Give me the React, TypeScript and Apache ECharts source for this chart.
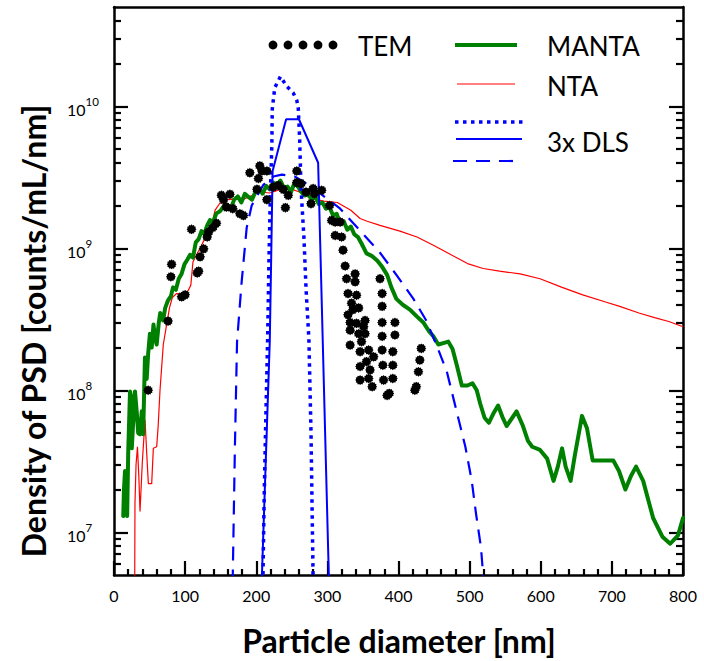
import React, { useEffect, useRef } from "react";
import * as echarts from "echarts";

// ---------- data (diameter in nm, density in counts/mL/nm) ----------
const temDiameter = [
  48, 76, 80, 81, 95, 100, 109, 117, 119, 121, 126, 131, 133, 139, 144, 151, 154, 158, 163, 167,
  177, 182, 191, 201, 203, 205, 208, 215, 215, 224, 231, 238, 241, 245, 257, 257,
  263, 270, 277, 280, 282, 292, 303, 306, 311, 318, 311, 320, 322, 325, 327, 339, 339, 329, 341,
  334, 336, 344, 329, 332, 341, 353, 351, 332, 344, 353, 348, 332, 346, 358, 365, 355, 346, 360,
  346, 358, 363, 374, 377, 377, 377, 377, 377, 378, 379, 384, 395, 395, 392, 392, 392, 387,
  432, 430, 428, 425, 423,
];
const temDensity = [
  1.0e8, 3.07e8, 6.3e8, 7.7e8, 4.55e8, 4.7e8, 1.36e9, 6.7e8, 6.9e8, 8.7e8, 9.9e8, 1.2e9, 1.3e9, 1.4e9, 1.5e9, 2.36e9, 2.2e9, 1.95e9, 2.4e9, 1.9e9,
  1.75e9, 1.7e9, 3.4e9, 2.6e9, 3.1e9, 3.8e9, 3.5e9, 3.5e9, 2.2e9, 2.7e9, 2.77e9, 2.6e9, 1.93e9, 2.36e9, 3.5e9, 2.9e9,
  2.85e9, 2.49e9, 2.06e9, 2.63e9, 2.42e9, 2.56e9, 2.0e9, 1.57e9, 1.53e9, 1.53e9, 1.23e9, 1.2e9, 9.7e8, 7.5e8, 6.1e8, 6.6e8, 5.8e8, 4.8e8, 4.67e8,
  4.1e8, 3.7e8, 3.8e8, 3.4e8, 3.0e8, 2.96e8, 3.1e8, 2.8e8, 2.65e8, 2.5e8, 2.5e8, 2.2e8, 2.08e8, 1.87e8, 1.92e8, 1.72e8, 1.59e8, 1.47e8, 1.39e8,
  1.18e8, 1.21e8, 1.06e8, 6.1e8, 4.8e8, 3.9e8, 3.0e8, 2.4e8, 1.92e8, 1.5e8, 1.18e8, 9.2e7, 3.0e8, 2.45e8, 1.87e8, 1.5e8, 1.21e8, 9.5e7,
  1.97e8, 1.63e8, 1.35e8, 1.06e8, 1.0e8,
];

const mantaDiameter = [
  13, 14, 15.5, 17, 18.5, 20, 22.5, 24, 25, 27, 29.5, 32, 34, 36.5, 39, 41, 43.5, 46, 48, 50.5,
  53, 55.5, 58, 60, 63, 65, 69, 72, 76, 80, 83, 87, 91, 95, 99, 103, 107, 111, 115, 119,
  123, 127, 131, 135, 139, 144, 149, 154, 159, 164, 169, 174, 179, 184, 189, 194, 199, 204, 209, 214,
  219, 224, 229, 234, 239, 244, 249, 254, 259, 263, 268, 273, 278, 283, 288, 293, 298, 303, 308, 313,
  318, 323, 328, 333, 338, 343, 348, 355, 363, 370, 377, 384, 390, 397, 406, 416, 426, 435, 443, 449,
  456, 463, 470, 476, 482, 489, 497, 504, 510, 515, 521, 527, 533, 540, 546, 552, 559, 566, 575, 582,
  588, 599, 609, 618, 624, 630, 635, 642, 648, 658, 665, 673, 680, 688, 702, 710, 719, 727, 734, 744,
  751, 758, 771, 782, 793, 800,
];
const mantaDensity = [
  1.3e7, 2.0e7, 2.7e7, 1.8e7, 1.3e7, 3.7e7, 9.8e7, 9.0e7, 3.9e7, 6.0e7, 9.8e7, 7.0e7, 5.0e7, 4.9e7, 7.1e7, 4.9e7, 1.7e8, 1.2e8, 1.8e8, 2.5e8,
  2.0e8, 2.9e8, 2.3e8, 2.1e8, 3.0e8, 3.5e8, 3.1e8, 3.8e8, 4.3e8, 4.6e8, 5.3e8, 5.1e8, 6.1e8, 6.6e8, 7.7e8, 8.3e8, 9.0e8, 8.6e8, 1.1e9, 1.16e9,
  1.32e9, 1.26e9, 1.45e9, 1.58e9, 1.52e9, 1.76e9, 1.82e9, 1.97e9, 2.02e9, 1.9e9, 2.2e9, 2.32e9, 2.1e9, 2.42e9, 2.3e9, 2.2e9, 2.5e9, 2.62e9, 2.42e9, 2.75e9,
  2.6e9, 2.9e9, 2.78e9, 3.0e9, 2.65e9, 2.72e9, 2.5e9, 2.9e9, 2.7e9, 2.5e9, 2.35e9, 2.4e9, 2.2e9, 2.3e9, 2.05e9, 2.1e9, 1.9e9, 1.95e9, 1.7e9, 1.75e9,
  1.5e9, 1.55e9, 1.35e9, 1.42e9, 1.25e9, 1.2e9, 1.08e9, 9.2e8, 8.8e8, 8.2e8, 7.4e8, 6.5e8, 5.3e8, 4.4e8, 4.0e8, 3.7e8, 3.3e8, 3.0e8, 2.6e8, 2.4e8,
  2.1e8, 2.15e8, 2.2e8, 1.95e8, 1.5e8, 1.08e8, 1.08e8, 1.12e8, 1.0e8, 8.0e7, 6.4e7, 5.9e7, 6.8e7, 7.8e7, 6.5e7, 5.6e7, 6.3e7, 7.1e7, 5.6e7, 4.4e7,
  4.0e7, 3.8e7, 3.3e7, 2.3e7, 2.9e7, 3.9e7, 2.9e7, 2.3e7, 3.5e7, 6.6e7, 5.4e7, 3.2e7, 3.2e7, 3.2e7, 3.2e7, 2.7e7, 2.0e7, 2.5e7, 2.9e7, 2.3e7,
  1.7e7, 1.26e7, 9.3e6, 8.3e6, 9.5e6, 1.26e7,
];

const ntaDiameter = [
  29, 29.5, 31, 33, 35, 36.6, 39.8, 43.6, 46, 48.3, 53, 55.3, 60, 62, 64.7, 69.3, 74, 78, 82, 88,
  96, 104, 108, 111, 116, 121, 127, 133, 138, 142, 148, 154, 160, 169, 181, 194, 203, 219, 234, 245,
  260, 276, 295, 314, 333, 346, 356, 374, 402, 426, 449, 472, 497, 519, 542, 571, 599, 630, 659, 690,
  711, 738, 760, 780, 800,
];
const ntaDensity = [
  3e6, 1.6e7, 3.0e7, 4.0e7, 2.4e7, 1.4e7, 3.1e7, 6.2e7, 3.6e7, 2.2e7, 2.2e7, 3.9e7, 4.0e7, 5.5e7, 1.0e8, 2.1e8, 2.9e8, 3.8e8, 4.5e8, 4.8e8,
  4.8e8, 5.0e8, 5.5e8, 8.0e8, 9.0e8, 1.0e9, 1.15e9, 1.3e9, 1.5e9, 1.85e9, 2.05e9, 2.15e9, 2.2e9, 2.22e9, 2.2e9, 2.35e9, 2.5e9, 2.45e9, 2.6e9, 2.65e9,
  2.5e9, 2.25e9, 2.15e9, 2.1e9, 1.85e9, 1.62e9, 1.55e9, 1.45e9, 1.32e9, 1.2e9, 1.05e9, 9.1e8, 7.8e8, 7.2e8, 6.9e8, 6.6e8, 6.1e8, 5.3e8, 4.7e8, 4.2e8,
  3.9e8, 3.5e8, 3.25e8, 3.05e8, 2.8e8,
];

const dlsDottedDiameter = [208, 209.5, 211, 213, 216, 218, 220, 222, 222.5, 226, 234, 243, 252, 257, 259, 261, 263, 267, 270, 274, 277, 279, 280.5];
const dlsDottedDensity = [3e6, 5e6, 1.6e7, 5e7, 2.3e8, 8.9e8, 2.6e9, 5.5e9, 9.5e9, 1.35e10, 1.62e10, 1.38e10, 1.24e10, 1.1e10, 9.8e9, 5.9e9, 2.6e9, 1.2e9, 5.2e8, 2.3e8, 5e7, 1e7, 3e6];

const dlsSolidDiameter = [207, 208, 219, 221, 223, 242, 260, 287, 302, 303];
const dlsSolidDensity = [3e6, 5e6, 2.2e8, 8.5e8, 3.5e9, 8.1e9, 8.1e9, 4.0e9, 5e6, 3e6];

const dlsDashedDiameter = [166, 167, 170, 173, 179.6, 186.6, 193.6, 210, 224, 236, 254, 268.5, 289, 318, 346, 374, 397, 421, 439, 454, 468, 480, 494, 503, 509, 516, 519, 521];
const dlsDashedDensity = [3e6, 5e6, 4e7, 2.2e8, 5.9e8, 1.4e9, 2.0e9, 2.8e9, 3.2e9, 3.3e9, 3.2e9, 2.9e9, 2.45e9, 1.9e9, 1.33e9, 9.3e8, 6.5e8, 4.4e8, 3.1e8, 2.05e8, 1.35e8, 7.7e7, 4.0e7, 2.3e7, 1.35e7, 7.8e6, 5e6, 3e6];

const xTickStep = 100;
const yRangeMin = 5e6;
const yRangeMax = 5e10;
const decadeExponents = [7, 8, 9, 10];
const minorMultipliers = [2, 3, 4, 5, 6, 7, 8, 9];

// ---------- helpers ----------
const toLogPairs = (xs: number[], ys: number[]) => xs.map((x, i) => [x, Math.log10(ys[i])]);

function starSymbol(points: number, inner: number): string {
  const parts: string[] = [];
  for (let i = 0; i < points * 2; i++) {
    const r = i % 2 === 0 ? 50 : 50 * inner;
    const a = (Math.PI * i) / points - Math.PI / 2;
    parts.push(`${i === 0 ? "M" : "L"}${(50 + r * Math.cos(a)).toFixed(2)} ${(50 + r * Math.sin(a)).toFixed(2)}`);
  }
  return "path://" + parts.join(" ") + " Z";
}

const FONT = "Lato, 'Open Sans', sans-serif";

export default function App() {
  const ref = useRef<HTMLDivElement>(null);

  useEffect(() => {
    if (!ref.current) return;
    const chart = echarts.init(ref.current, undefined, { renderer: "svg" });

    const yMin = Math.log10(yRangeMin);
    const yMax = Math.log10(yRangeMax);
    const minorTicks: number[] = [];
    for (let e = 6; e <= 10; e++) {
      for (const m of minorMultipliers) {
        const v = e + Math.log10(m);
        if (v > yMin + 1e-6 && v < yMax - 1e-6) minorTicks.push(v);
      }
    }

    const black = "#000";
    const majorTick = { show: true, inside: true, length: 14, lineStyle: { color: black, width: 2.2 } };
    const minorTick = { show: true, inside: true, length: 7, lineStyle: { color: black, width: 2.2 } };
    const axisLineOn = { show: true, onZero: false, lineStyle: { color: black, width: 2.5 } };
    const axisLineOff = { show: false, onZero: false };

    const yBase = {
      type: "value",
      min: yMin,
      max: yMax,
      splitLine: { show: false },
      axisLabel: { show: false },
    };

    const star = starSymbol(12, 0.8);

    const option: any = {
      animation: false,
      backgroundColor: "#fff",
      grid: { left: 114, right: 21, top: 7, bottom: 86, show: false },
      xAxis: [
        {
          type: "value",
          min: 0,
          max: 800,
          interval: xTickStep,
          position: "bottom",
          axisLine: axisLineOn,
          axisTick: majorTick,
          minorTick: { show: true, splitNumber: 5, length: 6, lineStyle: { color: black, width: 2.2 } },
          axisLabel: { color: black, fontSize: 16, fontFamily: FONT, margin: 12 },
          splitLine: { show: false },
        },
        {
          type: "value",
          min: 0,
          max: 800,
          position: "top",
          axisLine: axisLineOn,
          axisTick: { show: false },
          axisLabel: { show: false },
          splitLine: { show: false },
        },
      ],
      yAxis: [
        {
          ...yBase,
          position: "left",
          axisLine: axisLineOn,
          axisTick: { ...majorTick, customValues: decadeExponents },
          axisLabel: {
            show: true,
            customValues: decadeExponents,
            align: "left",
            margin: 47,
            formatter: (v: number) => `{b|10}{s|${Math.round(v)}}`,
            rich: {
              b: { fontSize: 16, fontFamily: FONT, color: black, lineHeight: 22, verticalAlign: "bottom" },
              s: { fontSize: 11.5, fontFamily: FONT, color: black, lineHeight: 22, verticalAlign: "top" },
            },
          },
        },
        { ...yBase, position: "left", axisLine: axisLineOff, axisTick: { ...minorTick, customValues: minorTicks } },
        { ...yBase, position: "right", axisLine: axisLineOn, axisTick: { ...majorTick, customValues: decadeExponents } },
        { ...yBase, position: "right", axisLine: axisLineOff, axisTick: { ...minorTick, customValues: minorTicks } },
      ],
      series: [
        {
          name: "NTA",
          type: "line",
          data: toLogPairs(ntaDiameter, ntaDensity),
          symbol: "none",
          clip: true,
          lineStyle: { color: "#ff0000", width: 1.2 },
          z: 2,
        },
        {
          name: "MANTA",
          type: "line",
          data: toLogPairs(mantaDiameter, mantaDensity),
          symbol: "none",
          clip: true,
          lineStyle: { color: "#008000", width: 4, join: "round", cap: "round" },
          z: 3,
        },
        {
          name: "DLS dotted",
          type: "line",
          data: toLogPairs(dlsDottedDiameter, dlsDottedDensity),
          symbol: "none",
          clip: true,
          lineStyle: { color: "#0000ff", width: 3.5, type: [3.5, 4.5] },
          z: 4,
        },
        {
          name: "DLS solid",
          type: "line",
          data: toLogPairs(dlsSolidDiameter, dlsSolidDensity),
          symbol: "none",
          clip: true,
          lineStyle: { color: "#0000ff", width: 2 },
          z: 4,
        },
        {
          name: "DLS dashed",
          type: "line",
          data: toLogPairs(dlsDashedDiameter, dlsDashedDensity),
          symbol: "none",
          clip: true,
          lineStyle: { color: "#0000ff", width: 2.2, type: [14, 9] },
          z: 4,
        },
        {
          name: "TEM",
          type: "scatter",
          data: toLogPairs(temDiameter, temDensity),
          symbol: star,
          symbolSize: 10,
          itemStyle: { color: black, opacity: 1 },
          z: 5,
        },
      ],
      graphic: [
        // legend
        ...[273, 288, 303, 318, 333].map((cx) => ({
          type: "circle",
          shape: { cx, cy: 45, r: 4.4 },
          style: { fill: black },
        })),
        { type: "text", x: 358, y: 46, style: { text: "TEM", font: `26px ${FONT}`, fill: black, textVerticalAlign: "middle" } },
        { type: "line", shape: { x1: 455, y1: 45, x2: 517, y2: 45 }, style: { stroke: "#008000", lineWidth: 4 } },
        { type: "text", x: 547, y: 46, style: { text: "MANTA", font: `26px ${FONT}`, fill: black, textVerticalAlign: "middle" } },
        { type: "line", shape: { x1: 457, y1: 84, x2: 515, y2: 84 }, style: { stroke: "#ff0000", lineWidth: 1.2 } },
        { type: "text", x: 547, y: 86, style: { text: "NTA", font: `26px ${FONT}`, fill: black, textVerticalAlign: "middle" } },
        { type: "line", shape: { x1: 455, y1: 122, x2: 523, y2: 122 }, style: { stroke: "#0000ff", lineWidth: 3.5, lineDash: [3.5, 4.5] } },
        { type: "line", shape: { x1: 456, y1: 139, x2: 522, y2: 139 }, style: { stroke: "#0000ff", lineWidth: 2 } },
        { type: "line", shape: { x1: 453, y1: 161, x2: 520, y2: 161 }, style: { stroke: "#0000ff", lineWidth: 2.2, lineDash: [14, 9] } },
        { type: "text", x: 547, y: 142, style: { text: "3x DLS", font: `26px ${FONT}`, fill: black, textVerticalAlign: "middle" } },
        // axis titles
        {
          type: "text",
          x: 399,
          y: 640,
          style: { text: "Particle diameter [nm]", font: `bold 32px ${FONT}`, fill: black, textAlign: "center", textVerticalAlign: "middle" },
        },
        {
          type: "text",
          x: 33,
          y: 331,
          rotation: Math.PI / 2,
          style: { text: "Density of PSD [counts/mL/nm]", font: `bold 32px ${FONT}`, fill: black, textAlign: "center", textVerticalAlign: "middle" },
        },
      ],
    };

    chart.setOption(option);
    return () => chart.dispose();
  }, []);

  return (
    <div
      ref={ref}
      style={{ position: "fixed", left: 0, top: 0, width: 704, height: 661, background: "#fff" }}
    />
  );
}
